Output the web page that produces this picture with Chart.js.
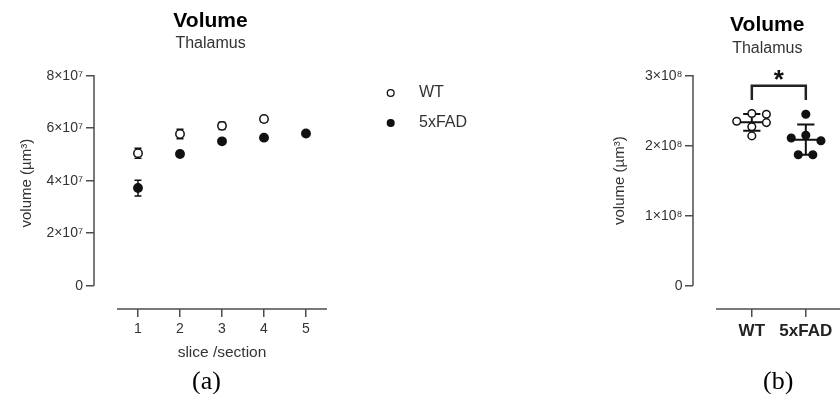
<!DOCTYPE html>
<html>
<head>
<meta charset="utf-8">
<title>Volume – Thalamus</title>
<script src="https://cdn.jsdelivr.net/npm/chart.js@4/dist/chart.umd.min.js"></script>
<style>
  html, body { margin: 0; padding: 0; background: #fff; width: 840px; height: 394px; overflow: hidden; position: relative; }
  #c1 { position: absolute; left: 0; top: 0; }
  #c2 { position: absolute; left: 580px; top: 0; }
  .panel-label { position: absolute; top: 366px; font-family: "Liberation Serif", "Times New Roman", serif; font-size: 26px; line-height: 30px; color: #000; }
</style>
</head>
<body>
<canvas id="c1" width="480" height="394"></canvas>
<canvas id="c2" width="267" height="394"></canvas>
<div class="panel-label" style="left:192px">(a)</div>
<div class="panel-label" style="left:763px">(b)</div>

<script>
// ---------- data ----------
// (a) thalamus volume per slice/section, mean ± SEM
const slices         = [1, 2, 3, 4, 5];
const wtSliceVolume  = [5.05e7, 5.78e7, 6.09e7, 6.35e7];
const wtSliceSem     = [0.19e7, 0.18e7, 0.14e7, 0.10e7];
const fadSliceVolume = [3.72e7, 5.02e7, 5.50e7, 5.64e7, 5.80e7];
const fadSliceSem    = [0.30e7, 0.10e7, 0.08e7, 0.06e7, 0];
const sliceYTicks    = [0, 2e7, 4e7, 6e7, 8e7];

// (b) total thalamus volume per animal
const groups       = ['WT', '5xFAD'];
const wtVolume     = [2.35e8, 2.46e8, 2.45e8, 2.27e8, 2.33e8, 2.14e8];
const fadVolume    = [2.45e8, 2.11e8, 2.15e8, 2.07e8, 1.87e8, 1.87e8];
const volumeYTicks = [0, 1e8, 2e8, 3e8];
const significance = '*';

// ---------- styling ----------
const FONT = '"Liberation Sans", Arial, Helvetica, sans-serif';
const AXIS = '#4d4d4d';
const TEXT = '#333';
Chart.defaults.font.family = FONT;
Chart.defaults.color = TEXT;

// horizontal spread of the dots inside each group column
const wtSpread  = [-0.28, 0, 0.27, 0, 0.27, 0];
const fadSpread = [0, -0.27, 0, 0.28, -0.14, 0.13];

const SUP = {'0':'⁰','1':'¹','2':'²','3':'³','4':'⁴','5':'⁵','6':'⁶','7':'⁷','8':'⁸','9':'⁹'};
function sci(v, exp) {
  if (v === 0) return '0';
  const m = Math.round(v / Math.pow(10, exp));
  return m + '×10' + String(exp).split('').map(c => SUP[c]).join('');
}

// detached axis spines and axis titles
const framePlugin = {
  id: 'frame',
  beforeDatasetsDraw(chart, args, o) {
    const {ctx, chartArea, scales: {x, y}} = chart;
    ctx.save();
    ctx.strokeStyle = AXIS;
    ctx.lineWidth = 1.5;
    ctx.beginPath();
    ctx.moveTo(chartArea.left, y.getPixelForValue(o.yFrom));
    ctx.lineTo(chartArea.left, y.getPixelForValue(o.yTo) - 0.75);
    ctx.moveTo(x.getPixelForValue(o.xFrom), chartArea.bottom);
    ctx.lineTo(x.getPixelForValue(o.xTo), chartArea.bottom);
    ctx.stroke();

    ctx.fillStyle = TEXT;
    ctx.textAlign = 'center';
    ctx.textBaseline = 'middle';
    ctx.font = '15.5px ' + FONT;
    if (o.xTitle) {
      const cx = (x.getPixelForValue(o.xFrom) + x.getPixelForValue(o.xTo)) / 2;
      ctx.fillText(o.xTitle, cx, o.xTitleY);
    }
    if (o.yTitle) {
      ctx.font = '15px ' + FONT;
      const cy = (y.getPixelForValue(o.yFrom) + y.getPixelForValue(o.yTo)) / 2 + o.yTitleShift;
      ctx.translate(o.yTitleX, cy);
      ctx.rotate(-Math.PI / 2);
      ctx.fillText(o.yTitle, 0, 0);
    }
    ctx.restore();
  }
};

// mean ± SEM whiskers for the per-slice series
const errorBarPlugin = {
  id: 'errorBars',
  beforeDatasetsDraw(chart, args, o) {
    const {ctx, scales: {x, y}} = chart;
    ctx.save();
    ctx.strokeStyle = '#111';
    ctx.lineWidth = 1.5;
    chart.data.datasets.forEach(ds => {
      (ds.errors || []).forEach((e, i) => {
        if (!e) return;
        const p = ds.data[i];
        const px = x.getPixelForValue(p.x);
        const top = y.getPixelForValue(p.y + e);
        const bot = y.getPixelForValue(p.y - e);
        ctx.beginPath();
        ctx.moveTo(px, top); ctx.lineTo(px, bot);
        ctx.moveTo(px - o.cap, top); ctx.lineTo(px + o.cap, top);
        ctx.moveTo(px - o.cap, bot); ctx.lineTo(px + o.cap, bot);
        ctx.stroke();
      });
    });
    ctx.restore();
  }
};

// series key to the right of the slice plot
const sideLegendPlugin = {
  id: 'sideLegend',
  afterDraw(chart, args, o) {
    const {ctx} = chart;
    ctx.save();
    chart.data.datasets.forEach((ds, i) => {
      const cy = o.y + i * o.spacing;
      ctx.beginPath();
      ctx.arc(o.x, cy, o.radius, 0, Math.PI * 2);
      ctx.fillStyle = ds.pointBackgroundColor;
      ctx.fill();
      ctx.lineWidth = 1.3;
      ctx.strokeStyle = ds.pointBorderColor;
      ctx.stroke();
      ctx.fillStyle = TEXT;
      ctx.font = '16px ' + FONT;
      ctx.textAlign = 'left';
      ctx.textBaseline = 'middle';
      ctx.fillText(ds.label, o.textX, cy);
    });
    ctx.restore();
  }
};

// mean line, SD whiskers and the significance bracket for the group plot
const groupStatsPlugin = {
  id: 'groupStats',
  beforeDatasetsDraw(chart, args, o) {
    const {ctx, scales: {x, y}} = chart;
    ctx.save();
    ctx.strokeStyle = '#111';
    ctx.lineWidth = 2;
    o.groups.forEach(g => {
      const n = g.values.length;
      const mean = g.values.reduce((a, b) => a + b, 0) / n;
      const sd = Math.sqrt(g.values.reduce((a, b) => a + (b - mean) * (b - mean), 0) / (n - 1));
      const cx = x.getPixelForValue(g.at);
      const half = x.getPixelForValue(g.at + o.meanHalf) - cx;
      const cap = x.getPixelForValue(g.at + o.capHalf) - cx;
      const pm = y.getPixelForValue(mean);
      const pt = y.getPixelForValue(mean + sd);
      const pb = y.getPixelForValue(mean - sd);
      ctx.beginPath();
      ctx.moveTo(cx - half, pm); ctx.lineTo(cx + half, pm);
      ctx.moveTo(cx, pt); ctx.lineTo(cx, pb);
      ctx.moveTo(cx - cap, pt); ctx.lineTo(cx + cap, pt);
      ctx.moveTo(cx - cap, pb); ctx.lineTo(cx + cap, pb);
      ctx.stroke();
    });
    ctx.restore();
  },
  afterDatasetsDraw(chart, args, o) {
    const {ctx, scales: {x, y}} = chart;
    const x1 = x.getPixelForValue(o.groups[0].at);
    const x2 = x.getPixelForValue(o.groups[1].at);
    const top = y.getPixelForValue(o.bracketTop);
    const foot = y.getPixelForValue(o.bracketFoot);
    ctx.save();
    ctx.strokeStyle = '#222';
    ctx.lineWidth = 2.5;
    ctx.lineJoin = 'miter';
    ctx.beginPath();
    ctx.moveTo(x1, foot); ctx.lineTo(x1, top); ctx.lineTo(x2, top); ctx.lineTo(x2, foot);
    ctx.stroke();
    ctx.fillStyle = '#111';
    ctx.font = 'bold 26px ' + FONT;
    ctx.textAlign = 'center';
    ctx.textBaseline = 'alphabetic';
    ctx.fillText(o.mark, (x1 + x2) / 2, top + 2);
    ctx.restore();
  }
};

const tickGrid = { drawOnChartArea: false, drawTicks: true, tickLength: 8, color: AXIS, tickColor: AXIS, lineWidth: 1.5 };

// ---------- (a) volume by slice ----------
new Chart(document.getElementById('c1'), {
  type: 'scatter',
  data: {
    datasets: [
      {
        label: 'WT',
        data: wtSliceVolume.map((v, i) => ({x: slices[i], y: v})),
        errors: wtSliceSem,
        pointRadius: 4.2, pointBorderWidth: 1.5,
        pointBackgroundColor: '#fff', pointBorderColor: '#111'
      },
      {
        label: '5xFAD',
        data: fadSliceVolume.map((v, i) => ({x: slices[i], y: v})),
        errors: fadSliceSem,
        pointRadius: 4.2, pointBorderWidth: 1.5,
        pointBackgroundColor: '#111', pointBorderColor: '#111'
      }
    ]
  },
  options: {
    responsive: false, animation: false, devicePixelRatio: 1,
    layout: { padding: { left: 0, right: 153, top: 0, bottom: 0 } },
    plugins: {
      legend: { display: false },
      tooltip: { enabled: false },
      title: { display: true, text: 'Volume', fullSize: false, color: '#000',
               font: { size: 21, weight: 'bold' }, padding: { top: 8.4, bottom: 0 } },
      subtitle: { display: true, text: 'Thalamus', fullSize: false, color: TEXT,
                  font: { size: 16 }, padding: { top: 0, bottom: 22.9 } },
      frame: { yFrom: 0, yTo: 8e7, xFrom: 0.5, xTo: 5.5,
               xTitle: 'slice /section', xTitleY: 353,
               yTitle: 'volume (µm³)', yTitleX: 27, yTitleShift: 2.5 },
      errorBars: { cap: 3.5 },
      sideLegend: { x: 390.7, y: 93, spacing: 30, radius: 3.4, textX: 419 }
    },
    scales: {
      x: {
        type: 'linear', min: -0.0476, max: 5.5,
        border: { display: false }, grid: tickGrid,
        afterFit: s => { s.height = 85; },
        afterBuildTicks: s => { s.ticks = slices.map(v => ({value: v})); },
        ticks: { padding: 3.6, color: TEXT, font: { size: 14 }, callback: v => String(v) }
      },
      y: {
        type: 'linear', min: -0.8876e7, max: 8e7,
        border: { display: false }, grid: tickGrid,
        afterFit: s => { s.width = 94; },
        afterBuildTicks: s => { s.ticks = sliceYTicks.map(v => ({value: v})); },
        ticks: { padding: 3, color: TEXT, font: { size: 14 }, callback: v => sci(v, 7) }
      }
    }
  },
  plugins: [framePlugin, errorBarPlugin, sideLegendPlugin]
});

// ---------- (b) total volume by genotype ----------
new Chart(document.getElementById('c2'), {
  type: 'scatter',
  data: {
    datasets: [
      {
        label: groups[0],
        data: wtVolume.map((v, i) => ({x: 1 + wtSpread[i], y: v})),
        pointRadius: 3.8, pointBorderWidth: 1.5,
        pointBackgroundColor: '#fff', pointBorderColor: '#111'
      },
      {
        label: groups[1],
        data: fadVolume.map((v, i) => ({x: 2 + fadSpread[i], y: v})),
        pointRadius: 3.8, pointBorderWidth: 1.5,
        pointBackgroundColor: '#111', pointBorderColor: '#111'
      }
    ]
  },
  options: {
    responsive: false, animation: false, devicePixelRatio: 1,
    layout: { padding: 0 },
    plugins: {
      legend: { display: false },
      tooltip: { enabled: false },
      title: { display: true, text: 'Volume', fullSize: false, color: '#000',
               font: { size: 21, weight: 'bold' }, padding: { top: 12.4, bottom: 0 } },
      subtitle: { display: true, text: 'Thalamus', fullSize: false, color: TEXT,
                  font: { size: 16 }, padding: { top: 1.1, bottom: 17.8 } },
      frame: { yFrom: 0, yTo: 3e8, xFrom: 0.339, xTo: 2.661,
               yTitle: 'volume (µm³)', yTitleX: 40, yTitleShift: 0 },
      groupStats: {
        groups: [{at: 1, values: wtVolume}, {at: 2, values: fadVolume}],
        meanHalf: 0.27, capHalf: 0.16,
        bracketTop: 2.857e8, bracketFoot: 2.653e8, mark: significance
      }
    },
    scales: {
      x: {
        type: 'linear', min: -0.0893, max: 2.661,
        border: { display: false }, grid: tickGrid,
        afterFit: s => { s.height = 85; },
        afterBuildTicks: s => { s.ticks = groups.map((g, i) => ({value: i + 1})); },
        ticks: { padding: 4.5, color: '#222', font: { size: 17, weight: 'bold' },
                 callback: v => groups[v - 1] }
      },
      y: {
        type: 'linear', min: -0.3329e8, max: 3e8,
        border: { display: false }, grid: tickGrid,
        afterFit: s => { s.width = 113; },
        afterBuildTicks: s => { s.ticks = volumeYTicks.map(v => ({value: v})); },
        ticks: { padding: 2.5, color: TEXT, font: { size: 14 }, callback: v => sci(v, 8) }
      }
    }
  },
  plugins: [framePlugin, groupStatsPlugin]
});
</script>
</body>
</html>
